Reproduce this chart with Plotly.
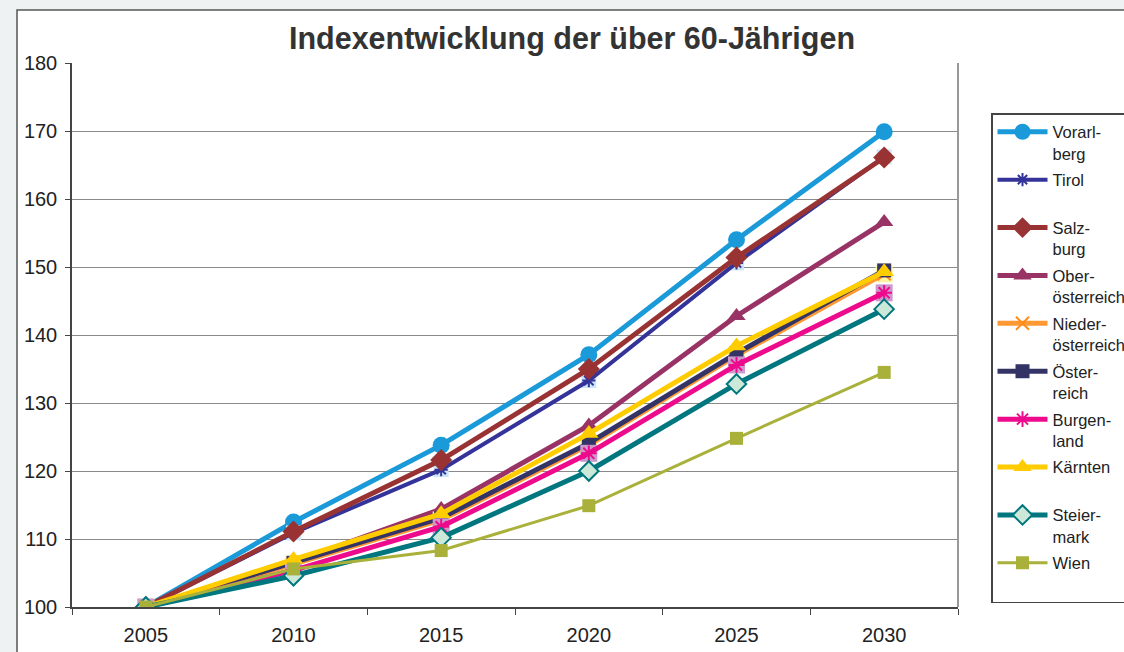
import plotly.graph_objects as go

years = ["2005", "2010", "2015", "2020", "2025", "2030"]

vorarlberg = [100, 112.5, 123.8, 137.1, 154.0, 169.9]
tirol = [100, 110.9, 120.2, 133.3, 150.6, 166.2]
salzburg = [100, 111.1, 121.6, 135.0, 151.4, 166.1]
oberoesterreich = [100, 106.6, 114.4, 126.7, 142.8, 156.6]
niederoesterreich = [100, 106.3, 112.8, 123.8, 137.0, 149.0]
oesterreich = [100, 106.5, 113.1, 124.1, 137.3, 149.5]
burgenland = [100, 105.4, 111.8, 122.6, 135.6, 146.2]
kaernten = [100, 107.0, 113.7, 125.5, 138.4, 149.3]
steiermark = [100, 104.6, 110.2, 120.0, 132.8, 143.8]
wien = [100, 105.6, 108.3, 114.9, 124.8, 134.5]

series = [
    # name, values, line color, width, symbol, marker color, marker line color, size, bg square color
    ("Vorarl-<br>berg", vorarlberg, "#1A9AD8", 5, "circle", "#1A9AD8", "#1A9AD8", 17, None),
    ("Tirol<br> ", tirol, "#333399", 4, "asterisk", "#333399", "#333399", 11, "#CCE6F8"),
    ("Salz-<br>burg", salzburg, "#993333", 5, "diamond", "#993333", "#993333", 17, None),
    ("Ober-<br>österreich", oberoesterreich, "#993366", 5, "triangle-up", "#993366", "#993366", 16, None),
    ("Nieder-<br>österreich", niederoesterreich, "#FF9933", 5, "x-thin", "#FF8C1A", "#FF8C1A", 13, "#FFF5A0"),
    ("Öster-<br>reich", oesterreich, "#333366", 5, "square", "#333366", "#333366", 14, None),
    ("Burgen-<br>land", burgenland, "#EE0A8C", 5, "asterisk", "#EE0A8C", "#EE0A8C", 13, "#CC99CC"),
    ("Kärnten<br> ", kaernten, "#FFCC00", 5, "triangle-up", "#FFCC00", "#FFCC00", 17, None),
    ("Steier-<br>mark", steiermark, "#00767F", 5, "diamond", "#CCE8D8", "#00767F", 15, None),
    ("Wien<br> ", wien, "#A9B13A", 3, "square", "#A9B13A", "#A9B13A", 13, None),
]

fig = go.Figure()
for i, (name, vals, lc, lw, sym, mc, mlc, ms, bg) in enumerate(series):
    grp = f"g{i}"
    if bg is not None:
        fig.add_trace(go.Scatter(
            x=years, y=vals, mode="markers", showlegend=False, legendgroup=grp,
            marker=dict(symbol="square", size=ms + 4, color=bg, line=dict(width=0)),
            hoverinfo="skip"))
    if sym in ("asterisk", "x-thin"):
        mlw = 2
    elif mc != mlc:
        mlw = 2
    else:
        mlw = 0
    fig.add_trace(go.Scatter(
        x=years, y=vals, name=name, mode="lines+markers", legendgroup=grp,
        line=dict(color=lc, width=lw),
        marker=dict(symbol=sym, size=ms, color=mc, line=dict(color=mlc, width=mlw)),
    ))

W, H = 1124, 652
L, R, T, B = 72, W - 958, 63, H - 607
pw, ph = W - L - R, H - T - B


def px(xp):
    return (xp - L) / pw


def py(yp):
    return (H - B - yp) / ph


fig.update_layout(
    width=W, height=H,
    margin=dict(l=L, r=R, t=T, b=B, autoexpand=False),
    paper_bgcolor="#EEF2F3",
    plot_bgcolor="white",
    font=dict(family="Liberation Sans, Arial, sans-serif", color="#222222"),
    title=dict(text="<b>Indexentwicklung der über 60-Jährigen</b>",
               x=572 / W, xanchor="center", y=1 - 38 / H, yanchor="middle",
               font=dict(size=30.5, color="#333333")),
    showlegend=True,
    legend=dict(x=px(991), y=py(113), xanchor="left", yanchor="top",
                bgcolor="white", bordercolor="#444444", borderwidth=1.5,
                font=dict(size=16.5, color="#222222"), valign="top",
                itemwidth=50, tracegroupgap=2, traceorder="grouped"),
    shapes=[
        dict(type="rect", xref="paper", yref="paper", layer="below",
             x0=px(17), x1=px(1200), y0=py(700), y1=py(10),
             fillcolor="white", line=dict(color="#555555", width=1.5)),
        dict(type="line", xref="paper", yref="paper",
             x0=1, x1=1, y0=0, y1=1, line=dict(color="#999999", width=2)),
    ],
)

fig.update_xaxes(
    type="category", range=[-0.5, 5.5], tickson="boundaries",
    ticks="outside", ticklen=6, tickcolor="#444444",
    showline=True, linecolor="#444444", linewidth=1.5,
    showgrid=False, tickfont=dict(size=20, color="#222222"),
    ticklabelstandoff=9,
)
fig.update_yaxes(
    range=[100, 180], dtick=10, ticks="outside", ticklen=5, tickcolor="#444444",
    showline=True, linecolor="#444444", linewidth=1.5,
    showgrid=True, gridcolor="#8A8A8A", gridwidth=1,
    zeroline=False, tickfont=dict(size=20, color="#222222"),
    ticklabelstandoff=4,
)

post = ("document.body.style.margin='0';"
        "document.body.style.overflow='hidden';"
        "document.body.style.background='#EEF2F3';")

fig.write_html("out.html", post_script=post, config={"displayModeBar": False})
